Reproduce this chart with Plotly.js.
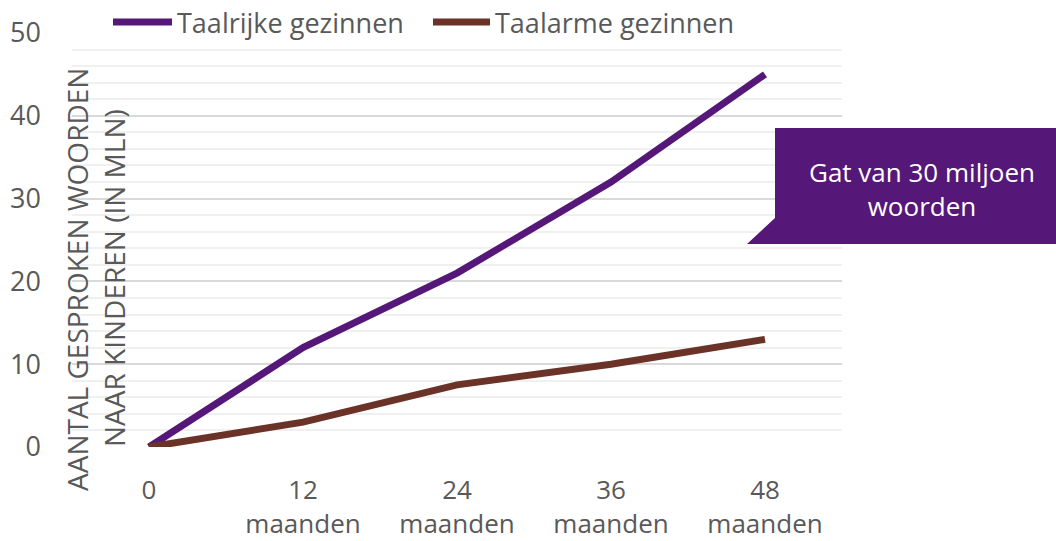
<!DOCTYPE html>
<html>
<head>
<meta charset="utf-8">
<script src="https://cdn.plot.ly/plotly-3.0.1.min.js"></script>
<style>html,body{margin:0;padding:0;background:#fff;}#chart{width:1056px;height:541px;}</style>
</head>
<body>
<div id="chart"></div>
<script>
const categories = ['0', '12<br>maanden', '24<br>maanden', '36<br>maanden', '48<br>maanden'];
const taalrijke = [0, 12, 21, 32, 45];
const taalarme = [0, 3, 7.5, 10, 13];
const seriesNames = ['Taalrijke gezinnen', 'Taalarme gezinnen'];
const yTitleLines = ['AANTAL GESPROKEN WOORDEN', 'NAAR KINDEREN (IN MLN)'];
const calloutText = 'Gat van 30 miljoen<br>woorden';

const FONT = 'Open Sans, sans-serif';
const GREY = '#595959';
const PURPLE = '#551778';
const BROWN = '#6b3327';
const colors = [PURPLE, BROWN];

const traces = [
  {x: categories, y: taalrijke, name: seriesNames[0], type: 'scatter', mode: 'lines',
   line: {color: PURPLE, width: 7}},
  {x: categories, y: taalarme, name: seriesNames[1], type: 'scatter', mode: 'lines',
   line: {color: BROWN, width: 7}}
];

const L = 72, R = 214, T = 33, B = 94, W = 1056, H = 541;
const pw = W - L - R, ph = H - T - B;
const px = v => (v - L) / pw;
const py = v => (H - B - v) / ph;

// custom legend (line samples + labels)
const legendX = [[113, 172, 175], [433, 490, 493]];
const legendShapes = seriesNames.map((n, i) => ({
  type: 'line', xref: 'paper', yref: 'paper', x0: px(legendX[i][0]), x1: px(legendX[i][1]),
  y0: py(22), y1: py(22), line: {color: colors[i], width: 7}
}));
const legendAnn = seriesNames.map((n, i) => ({
  xref: 'paper', yref: 'paper', x: px(legendX[i][2]), y: py(22), text: n, showarrow: false,
  xanchor: 'left', yanchor: 'middle', font: {family: FONT, size: 27, color: GREY}
}));

const layout = {
  width: W, height: H,
  margin: {l: L, r: R, t: T, b: B, autoexpand: false},
  paper_bgcolor: '#fff', plot_bgcolor: '#fff',
  font: {family: FONT, color: GREY, size: 26},
  showlegend: false,
  xaxis: {type: 'category', range: [-0.5, 4.5], showgrid: false, zeroline: false,
          showline: false, ticks: '', tickfont: {size: 26, color: GREY}, ticklabelstandoff: 25,
          fixedrange: true},
  yaxis: {range: [0, 50], tickvals: [0, 10, 20, 30, 40, 50], showgrid: true, gridcolor: '#d9d9d9',
          gridwidth: 2, zeroline: false, showline: false, ticks: '',
          tickfont: {size: 27, color: GREY}, ticklabelstandoff: 30,
          minor: {dtick: 2, showgrid: true, gridcolor: '#f0f0f0', gridwidth: 2}},
  shapes: [
    {type: 'path', xref: 'paper', yref: 'paper', fillcolor: PURPLE, line: {width: 0},
     path: `M ${px(775)} ${py(128)} L ${px(1056)} ${py(128)} L ${px(1056)} ${py(244)} L ${px(747)} ${py(244)} L ${px(775)} ${py(218)} Z`}
  ].concat(legendShapes),
  annotations: [
    {xref: 'paper', yref: 'paper', x: px(922), y: py(189), text: calloutText, showarrow: false,
     font: {family: FONT, size: 26, color: '#ffffff'}, align: 'center', xanchor: 'center', yanchor: 'middle'},
    {xref: 'paper', yref: 'paper', x: px(77), y: py(280), text: yTitleLines[0], showarrow: false,
     textangle: -90, font: {family: FONT, size: 28, color: GREY}, xanchor: 'center', yanchor: 'middle'},
    {xref: 'paper', yref: 'paper', x: px(114), y: py(278), text: yTitleLines[1], showarrow: false,
     textangle: -90, font: {family: FONT, size: 28, color: GREY}, xanchor: 'center', yanchor: 'middle'}
  ].concat(legendAnn)
};

Plotly.newPlot('chart', traces, layout, {displayModeBar: false, staticPlot: true});
</script>
</body>
</html>
